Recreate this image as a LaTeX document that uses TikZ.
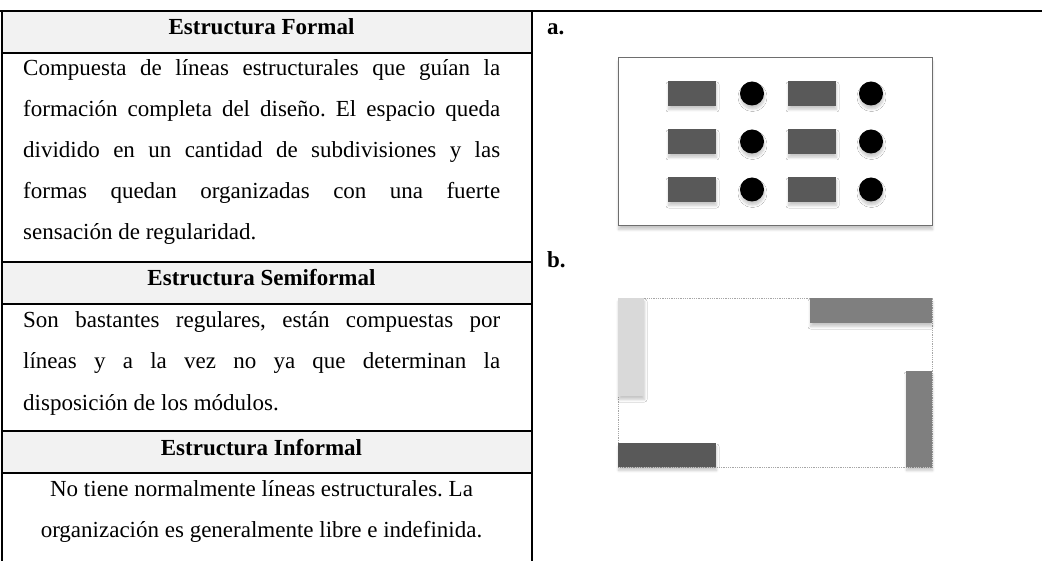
\documentclass[tikz,border=0pt]{standalone}
\usepackage{fontspec}
\setmainfont{Liberation Serif}
\frenchspacing
\usetikzlibrary{shadows.blur}
\definecolor{hdr}{HTML}{F2F2F2}
\definecolor{dk}{HTML}{595959}
\definecolor{md}{HTML}{7F7F7F}
\definecolor{lt}{HTML}{D9D9D9}
\definecolor{frm}{HTML}{6E6E6E}
\definecolor{dot}{HTML}{A6A6A6}
\newcommand{\jline}[1]{\makebox[477pt][s]{#1}}
\tikzset{
  rule/.style={line width=2pt, black},
  hdrfill/.style={fill=hdr, draw=none},
  hdrtext/.style={anchor=base, inner sep=0pt, font=\fontsize{23}{28}\selectfont\bfseries},
  bodyline/.style={anchor=base west, inner sep=0pt, font=\fontsize{23}{28}\selectfont},
  bodyc/.style={anchor=base, inner sep=0pt, font=\fontsize{23}{28}\selectfont},
  lbl/.style={anchor=base west, inner sep=0pt, font=\fontsize{23}{28}\selectfont\bfseries},
  shd/.style={blur shadow={shadow xshift=0.5pt, shadow yshift=-3.5pt, shadow blur radius=2.5pt, shadow blur steps=8, shadow opacity=22}},
  frameA/.style={draw=frm, line width=1pt, fill=white, shd},
  frameB/.style={draw=dot, line width=0.8pt, densely dotted, fill=white},
  blockdk/.style={fill=dk, draw=none, shd},
  blockmd/.style={fill=md, draw=none, shd},
  blocklt/.style={fill=lt, draw=none, shd},
  dotc/.style={fill=black, draw=none, shd},
}
\begin{document}
\begin{tikzpicture}[x=1pt,y=-1pt]
\useasboundingbox (0,0) rectangle (1042,561);
% header fills
\fill[hdrfill] (1.5,11) rectangle (531.5,53);
\fill[hdrfill] (1.5,262) rectangle (531.5,304);
\fill[hdrfill] (1.5,431) rectangle (531.5,473);
% table rules
\draw[rule] (0,11) -- (1042,11);
\draw[rule] (1.5,11) -- (1.5,561);
\draw[rule] (531.5,11) -- (531.5,561);
\foreach \yy in {53,262,304,431,473} \draw[rule] (1.5,\yy) -- (531.5,\yy);
% headers
\node[hdrtext] (h1) at (261.5,35) {Estructura Formal};
\node[hdrtext] (h2) at (261.5,286) {Estructura Semiformal};
\node[hdrtext] (h3) at (261.5,455) {Estructura Informal};
% block 1
\node[bodyline] (f1) at (23,76) {\jline{Compuesta de líneas estructurales que guían la}};
\node[bodyline] (f2) at (23,117) {\jline{formación completa del diseño. El espacio queda}};
\node[bodyline] (f3) at (23,158) {\jline{dividido en un cantidad de subdivisiones y las}};
\node[bodyline] (f4) at (23,199) {\jline{formas quedan organizadas con una fuerte}};
\node[bodyline] (f5) at (23,240) {sensación de regularidad.};
% block 2
\node[bodyline] (s1) at (23,328) {\jline{Son bastantes regulares, están compuestas por}};
\node[bodyline] (s2) at (23,369) {\jline{líneas y a la vez no ya que determinan la}};
\node[bodyline] (s3) at (23,410) {disposición de los módulos.};
% block 3
\node[bodyc] (i1) at (261.5,496) {No tiene normalmente líneas estructurales. La};
\node[bodyc] (i2) at (261.5,537) {organización es generalmente libre e indefinida.};
% labels
\node[lbl] (la) at (547,35) {a.};
\node[lbl] (lb) at (547,268) {b.};
% diagram a
\draw[frameA] (618,58) rectangle (932,226);
\foreach \yc in {93.5,141.5,189.5} {
  \fill[blockdk] (668,\yc-12.5) rectangle (716,\yc+12.5);
  \fill[blockdk] (788,\yc-12.5) rectangle (836,\yc+12.5);
  \fill[dotc] (752,\yc) circle (12);
  \fill[dotc] (871,\yc) circle (12);
}
% diagram b
\draw[frameB] (618,298) rectangle (932,467);
\fill[blocklt] (618,298) rectangle (644,396);
\fill[blockmd] (810,298) rectangle (932,323);
\fill[blockmd] (906,371) rectangle (932,467);
\fill[blockdk] (618,443) rectangle (716,467);
\end{tikzpicture}
\end{document}
